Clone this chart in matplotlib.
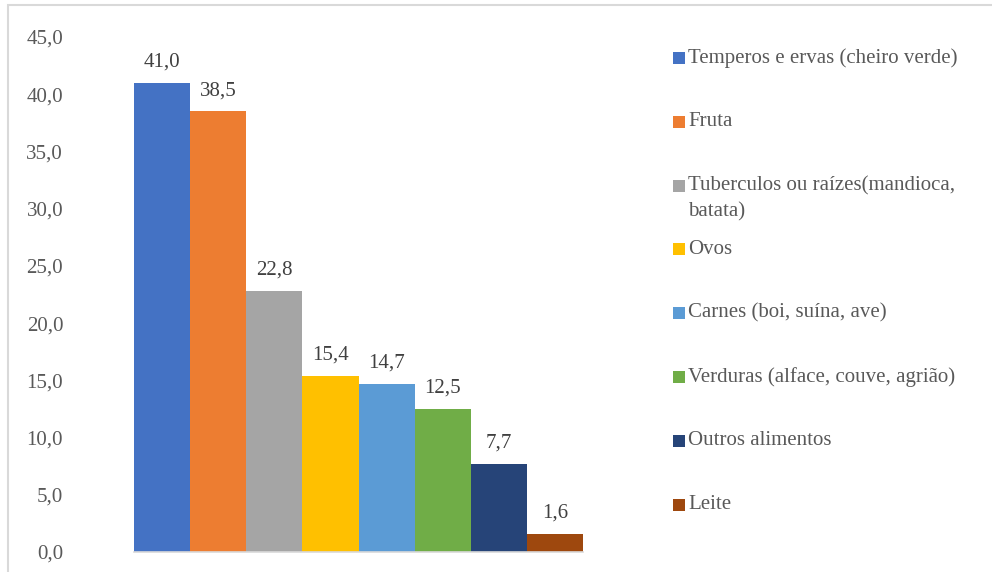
import matplotlib
matplotlib.use('Agg')
import matplotlib.pyplot as plt
from matplotlib.patches import Rectangle
import numpy as np

# ── Daten ─────────────────────────────────────────────────────────────────────
categorias = [
    'Temperos e ervas (cheiro verde)',
    'Fruta',
    'Tuberculos ou raízes(mandioca,\nbatata)',
    'Ovos',
    'Carnes (boi, suína, ave)',
    'Verduras (alface, couve, agrião)',
    'Outros alimentos',
    'Leite',
]
valores = [41.0, 38.5, 22.8, 15.4, 14.7, 12.5, 7.7, 1.6]
cores = ['#4472C4', '#ED7D31', '#A5A5A5', '#FFC000',
         '#5B9BD5', '#70AD47', '#264478', '#9E480E']
y_ticks = np.arange(0, 46, 5)

# ── Stil ──────────────────────────────────────────────────────────────────────
_TXT = '#595959'
_LINE = '#D9D9D9'
_FS = 15
plt.rcParams['font.family'] = ['Liberation Serif', 'DejaVu Serif']

W, H = 992, 572
fig = plt.figure(figsize=(W / 100, H / 100), dpi=100)
fig.patch.set_facecolor('white')

# Rahmen um das Diagramm (rechts/unten abgeschnitten)
fig.patches.append(Rectangle((8 / W, -0.1), 1.2, (H - 5) / H + 0.1,
                             transform=fig.transFigure, fill=False,
                             edgecolor=_LINE, linewidth=1.5))

ax = fig.add_axes([134 / W, 20 / H, (583 - 134) / W, (552 - 37) / H])
x = np.arange(len(valores))
bars = ax.bar(x, valores, width=1.0, color=cores, zorder=2)
ax.set_xlim(-0.5, len(valores) - 0.5)
ax.set_ylim(0, 45)

ax.bar_label(bars, labels=[f'{v:.1f}'.replace('.', ',') for v in valores],
             padding=8, fontsize=_FS, color='#404040')

ax.set_yticks(y_ticks)
ax.set_yticklabels([f'{v:.1f}'.replace('.', ',') for v in y_ticks])
ax.tick_params(axis='y', length=0, pad=51, labelsize=_FS, labelcolor=_TXT)
ax.set_xticks([])
for side in ('left', 'right', 'top'):
    ax.spines[side].set_visible(False)
ax.spines['bottom'].set_color(_LINE)
ax.spines['bottom'].set_linewidth(1.2)

# Legende (manuell, Excel-Stil)
y0, dy = 58, 63.8
for i, (lbl, c) in enumerate(zip(categorias, cores)):
    yc = y0 + i * dy
    fig.patches.append(Rectangle((673 / W, (H - yc - 6) / H), 12 / W, 12 / H,
                                 transform=fig.transFigure,
                                 facecolor=c, edgecolor='none'))
    linhas = lbl.split('\n')
    for j, linha in enumerate(linhas):
        fig.text(688 / W, (H - yc - 26 * j) / H, linha, fontsize=_FS,
                 color=_TXT, ha='left', va='center')

fig.savefig('out.png', dpi=100, facecolor='white')
